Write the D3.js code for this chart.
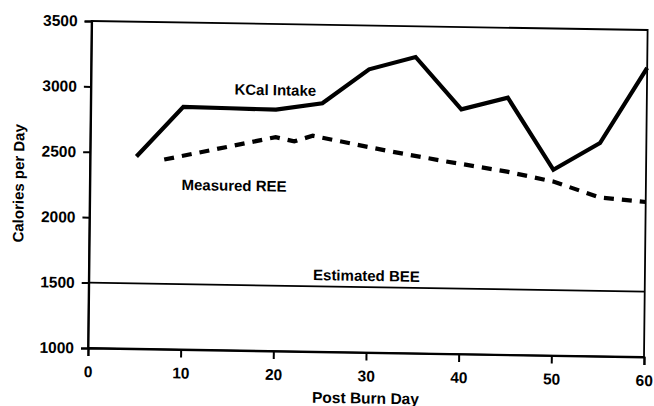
<!DOCTYPE html>
<html>
<head>
<meta charset="utf-8">
<script src="https://cdn.jsdelivr.net/npm/d3@7"></script>
<style>
  body { margin: 0; background: #fff; }
  svg text { font-family: "Liberation Sans", Arial, Helvetica, sans-serif; font-weight: bold; fill: #000; }
</style>
</head>
<body>
<svg id="chart" width="654" height="406"></svg>
<script>
'use strict';

// values
const intakeDays = [5, 10, 15, 20, 25, 30, 35, 40, 45, 50, 55, 60];
const intakeKcal = [2470, 2855, 2850, 2845, 2900, 3165, 3265, 2870, 2965, 2420, 2630, 3210];
const reeDays = [8, 20, 22, 24, 32, 38, 45, 50, 55, 60];
const reeKcal = [2450, 2635, 2605, 2650, 2545, 2475, 2400, 2330, 2215, 2185];
const beeDays = [0, 60];
const beeKcal = [1500, 1500];
const xTicks = [0, 10, 20, 30, 40, 50, 60];
const yTicks = [1000, 1500, 2000, 2500, 3000, 3500];
const labels = [
  { text: 'KCal Intake', day: 15.5, kcal: 2955 },
  { text: 'Measured REE', day: 9.9, kcal: 2220 },
  { text: 'Estimated BEE', day: 24.2, kcal: 1547 },
];

const W = 556, H = 327; // plot area
const svg = d3.select('#chart');

// the scan is slightly rotated/skewed, so the plot group gets a small affine transform
const g = svg.append('g')
  .attr('transform', 'matrix(1,0.0162,-0.011,1,91.6,21)');

const x = d3.scaleLinear().domain([0, 60]).range([0, W]);
const y = d3.scaleLinear().domain([1000, 3500]).range([H, 0]);

// frame
g.append('rect')
  .attr('x', 0).attr('y', 0).attr('width', W).attr('height', H)
  .attr('fill', 'none').attr('stroke', '#000').attr('stroke-width', 1.8);

const yAxis = g.append('g')
  .call(d3.axisLeft(y).tickValues(yTicks).tickSize(7).tickPadding(7).tickFormat(d3.format('d')));
const xAxis = g.append('g')
  .attr('transform', `translate(0,${H})`)
  .call(d3.axisBottom(x).tickValues(xTicks).tickSize(8).tickPadding(10));

[xAxis, yAxis].forEach((a) => {
  a.select('.domain').attr('stroke-width', 2);
  a.selectAll('.tick line').attr('stroke-width', 2);
  a.selectAll('.tick text').style('font-size', '15.5px');
});

const line = d3.line().x((d) => x(d[0])).y((d) => y(d[1]));

// estimated BEE
g.append('path')
  .datum(d3.zip(beeDays, beeKcal))
  .attr('d', line)
  .attr('fill', 'none').attr('stroke', '#000').attr('stroke-width', 1.7);

// measured REE, dashed
g.append('path')
  .datum(d3.zip(reeDays, reeKcal))
  .attr('d', line)
  .attr('fill', 'none').attr('stroke', '#000').attr('stroke-width', 4.2)
  .attr('stroke-dasharray', '10,8');

// kcal intake
g.append('path')
  .datum(d3.zip(intakeDays, intakeKcal))
  .attr('d', line)
  .attr('fill', 'none').attr('stroke', '#000').attr('stroke-width', 4.2)
  .attr('stroke-linejoin', 'miter');

g.selectAll('text.series')
  .data(labels)
  .join('text')
  .attr('class', 'series')
  .attr('x', (d) => x(d.day))
  .attr('y', (d) => y(d.kcal))
  .style('font-size', '15px')
  .text((d) => d.text);

// axis titles
g.append('text')
  .attr('x', x(30)).attr('y', H + 51)
  .attr('text-anchor', 'middle')
  .style('font-size', '15.5px')
  .text('Post Burn Day');

g.append('text')
  .attr('transform', `translate(-66,${H / 2}) rotate(-90)`)
  .attr('text-anchor', 'middle')
  .style('font-size', '15px')
  .text('Calories per Day');
</script>
</body>
</html>
